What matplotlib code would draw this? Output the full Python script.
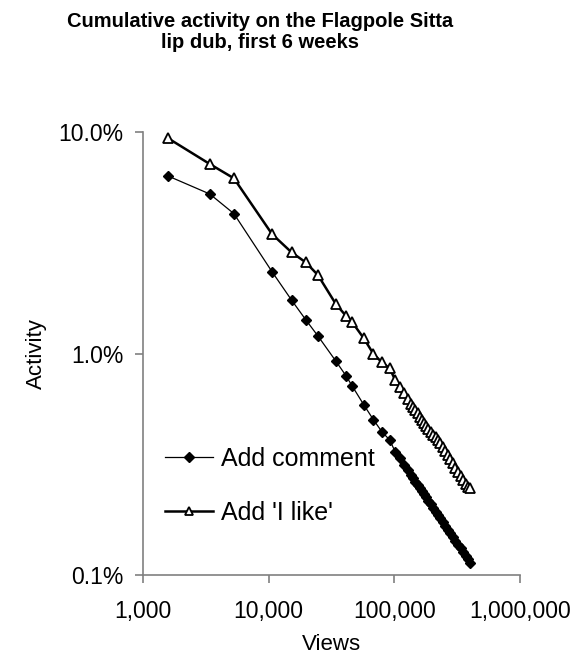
import matplotlib
matplotlib.use('Agg')
import matplotlib.pyplot as plt
from matplotlib.ticker import FuncFormatter, FixedLocator, NullLocator

plt.rcParams['font.family'] = ['Liberation Sans', 'DejaVu Sans']

# views after each day (shared by both series)
views = [1590, 3410, 5300, 10650, 15250, 19750, 24670, 34300, 41200, 46000,
         57200, 68200, 79650, 91800, 101500, 110200, 119200, 127500, 135000,
         141000, 147000, 153000, 159000, 165000, 171000, 178000, 186000,
         194000, 203000, 213000, 222000, 231000, 242000, 254000, 266000,
         278000, 291000, 305000, 320000, 336000, 352000, 368000, 384000, 399000]

# activity in percent
add_comment = [6.33, 5.25, 4.28, 2.34, 1.74, 1.42, 1.20, 0.923, 0.794, 0.716,
               0.586, 0.502, 0.443, 0.407, 0.360, 0.336, 0.314, 0.297, 0.283,
               0.273, 0.264, 0.255, 0.247, 0.239, 0.232, 0.224, 0.216,
               0.209, 0.201, 0.193, 0.187, 0.180, 0.173, 0.167, 0.160,
               0.154, 0.148, 0.143, 0.137, 0.132, 0.127, 0.122, 0.118, 0.113]

add_like = [9.37, 7.17, 6.18, 3.46, 2.86, 2.58, 2.26, 1.67, 1.48, 1.39,
            1.17, 0.995, 0.912, 0.857, 0.759, 0.708, 0.661, 0.623, 0.594,
            0.573, 0.554, 0.536, 0.519, 0.503, 0.488, 0.472, 0.456,
            0.442, 0.430, 0.420, 0.405, 0.395, 0.378, 0.362, 0.347,
            0.333, 0.319, 0.305, 0.292, 0.280, 0.268, 0.257, 0.250, 0.246]

x_ticks = [1000, 10000, 100000, 1000000]
y_ticks = [0.1, 1.0, 10.0]

fig = plt.figure(figsize=(5.76, 6.67), dpi=100)
ax = fig.add_axes([0.248, 0.138, 0.655, 0.664])

ax.plot(views, add_comment, color='black', lw=0.9, marker='D', ms=5.5,
        mfc='black', mec='black', label='Add comment')
ax.plot(views, add_like, color='black', lw=1.8, marker='^', ms=7,
        mfc='white', mec='black', mew=1.3, label="Add 'I like'")

ax.set_xscale('log')
ax.set_yscale('log')
ax.set_xlim(1000, 1000000)
ax.set_ylim(0.1, 10)

ax.xaxis.set_major_locator(FixedLocator(x_ticks))
ax.yaxis.set_major_locator(FixedLocator(y_ticks))
ax.xaxis.set_minor_locator(NullLocator())
ax.yaxis.set_minor_locator(NullLocator())
ax.xaxis.set_major_formatter(FuncFormatter(lambda v, p: '{:,.0f}'.format(v)))
ax.yaxis.set_major_formatter(FuncFormatter(lambda v, p: '{:.1f}%'.format(v)))

for s in ['top', 'right']:
    ax.spines[s].set_visible(False)
for s in ['left', 'bottom']:
    ax.spines[s].set_color('#808080')
    ax.spines[s].set_linewidth(1.2)
ax.tick_params(axis='both', which='major', direction='out', length=6,
               width=1.2, color='#808080', labelsize=16.5)
ax.tick_params(axis='x', pad=12)
ax.tick_params(axis='y', pad=8)

ax.set_xlabel('Views', fontsize=16, labelpad=8)
ax.set_ylabel('Activity', fontsize=16, labelpad=8)
fig.text(0.451, 0.982, 'Cumulative activity on the Flagpole Sitta\nlip dub, first 6 weeks',
         ha='center', va='top', fontsize=14.5, fontweight='bold', linespacing=1.15)

ax.legend(loc='upper left', bbox_to_anchor=(0.0, 0.34), frameon=False,
          fontsize=18, handlelength=1.9, handletextpad=0.32, labelspacing=1.2,
          markerscale=0.9)

fig.savefig('out.png', dpi=100)
